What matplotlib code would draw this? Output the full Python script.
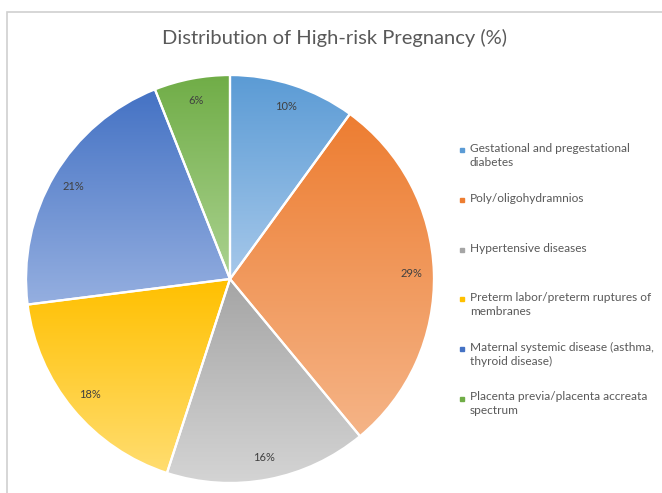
import numpy as np
import matplotlib
matplotlib.use("Agg")
from matplotlib import pyplot as plt
from matplotlib.colors import LinearSegmentedColormap
from matplotlib.patches import Rectangle

# data
categories = ["Gestational and pregestational\ndiabetes",
              "Poly/oligohydramnios",
              "Hypertensive diseases",
              "Preterm labor/preterm ruptures of\nmembranes",
              "Maternal systemic disease (asthma,\nthyroid disease)",
              "Placenta previa/placenta accreata\nspectrum"]
shares = [10, 29, 16, 18, 21, 6]
top_colors = ["#5b9bd5", "#ed7d31", "#a5a5a5", "#ffc000", "#4472c4", "#70ad47"]
bottom_colors = ["#a6c8ea", "#f5b487", "#d4d4d4", "#ffdd70", "#95afe0", "#abd290"]

plt.rcParams['font.family'] = ['Lato', 'DejaVu Sans']

fig = plt.figure(figsize=(6.62, 4.93), dpi=100)
W, H = 662, 493

# chart frame
fig.patches.append(Rectangle((7 / W, -0.1), 1.0, 1 - 12 / H + 0.1,
                             transform=fig.transFigure, fill=False,
                             edgecolor="#d0d0d0", linewidth=1.2))

cx, cy, r = 230, 279, 206
ax = fig.add_axes([(cx - r) / W, (H - cy - r) / H, 2 * r / W, 2 * r / H])

wedges, texts, autotexts = ax.pie(
    shares, startangle=90, counterclock=False, radius=1,
    autopct="%d%%", pctdistance=0.89,
    wedgeprops=dict(edgecolor="white", linewidth=1.6),
    textprops=dict(color="#404040", fontsize=8))

grad = np.linspace(0, 1, 256).reshape(-1, 1)
for w, c1, c2 in zip(wedges, top_colors, bottom_colors):
    ext = w.get_path().get_extents()
    cmap = LinearSegmentedColormap.from_list("g", [c1, c2])
    im = ax.imshow(grad, cmap=cmap, aspect="auto",
                   extent=[ext.x0, ext.x1, ext.y0, ext.y1],
                   origin="upper", zorder=0.5)
    im.set_clip_path(w)
    w.set_facecolor("none")
    w.set_zorder(1)

for t in autotexts:
    t.set_zorder(3)

ax.set_xlim(-1.01, 1.01)
ax.set_ylim(-1.01, 1.01)
ax.set_aspect("equal")
ax.axis("off")

fig.text(335 / W, 1 - 38 / H, "Distribution of High-risk Pregnancy (%)",
         ha="center", va="center", fontsize=14.5, color="#595959")

# legend
for i, (lab, c) in enumerate(zip(categories, top_colors)):
    y = 150 + 49.6 * i
    fig.patches.append(Rectangle((460 / W, 1 - (y + 2.5) / H), 4 / W, 4 / H,
                                 transform=fig.transFigure, color=c))
    fig.text(470 / W, 1 - (y - 6.5) / H, lab, ha="left", va="top",
             fontsize=8.6, color="#595959", linespacing=1.3)

fig.savefig("out.png", dpi=100)
